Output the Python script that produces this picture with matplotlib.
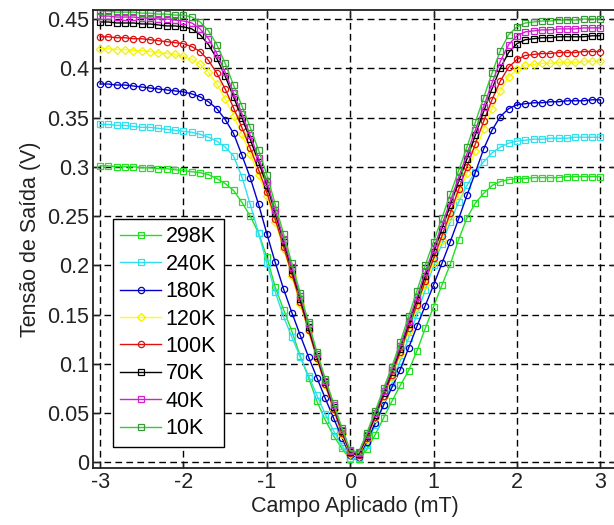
import numpy as np
import matplotlib.pyplot as plt

plt.rcParams['font.family'] = ['Liberation Sans', 'DejaVu Sans']

# applied field (mT), shared by every curve
campo = np.round(np.arange(-30, 31) / 10.0, 1)

v_298 = [0.301, 0.301, 0.300, 0.300, 0.300, 0.299, 0.299, 0.298, 0.298, 0.297, 0.296,
         0.295, 0.294, 0.292, 0.288, 0.283, 0.276, 0.264, 0.250, 0.233, 0.208,
         0.178, 0.155, 0.133, 0.108, 0.086, 0.062, 0.043, 0.027, 0.014, 0.003,
         0.003, 0.013, 0.028, 0.045, 0.062, 0.078, 0.093, 0.113, 0.136, 0.158,
         0.180, 0.201, 0.226, 0.248, 0.263, 0.273, 0.281, 0.285, 0.287, 0.288,
         0.288, 0.289, 0.289, 0.289, 0.289, 0.290, 0.290, 0.290, 0.290, 0.290]
v_240 = [0.343, 0.343, 0.342, 0.342, 0.341, 0.340, 0.340, 0.339, 0.338, 0.337, 0.336,
         0.335, 0.333, 0.330, 0.326, 0.320, 0.311, 0.290, 0.262, 0.233, 0.202,
         0.173, 0.148, 0.127, 0.107, 0.088, 0.068, 0.049, 0.032, 0.017, 0.004,
         0.004, 0.018, 0.038, 0.058, 0.080, 0.103, 0.126, 0.150, 0.175, 0.200,
         0.222, 0.244, 0.264, 0.281, 0.295, 0.305, 0.314, 0.320, 0.324, 0.326,
         0.327, 0.328, 0.328, 0.329, 0.329, 0.329, 0.330, 0.330, 0.330, 0.330]
v_180 = [0.384, 0.384, 0.383, 0.383, 0.382, 0.381, 0.380, 0.379, 0.378, 0.377, 0.376,
         0.374, 0.371, 0.366, 0.359, 0.348, 0.334, 0.312, 0.289, 0.262, 0.232,
         0.203, 0.176, 0.152, 0.129, 0.107, 0.086, 0.065, 0.045, 0.025, 0.007,
         0.005, 0.021, 0.040, 0.058, 0.076, 0.094, 0.116, 0.138, 0.159, 0.180,
         0.202, 0.224, 0.247, 0.271, 0.294, 0.318, 0.337, 0.351, 0.359, 0.363,
         0.364, 0.365, 0.365, 0.366, 0.366, 0.367, 0.367, 0.367, 0.368, 0.368]
v_120 = [0.420, 0.420, 0.419, 0.419, 0.418, 0.418, 0.417, 0.416, 0.415, 0.414, 0.412,
         0.409, 0.404, 0.396, 0.384, 0.369, 0.352, 0.333, 0.313, 0.292, 0.270,
         0.244, 0.217, 0.189, 0.161, 0.133, 0.105, 0.078, 0.053, 0.029, 0.008,
         0.006, 0.024, 0.045, 0.066, 0.087, 0.110, 0.133, 0.157, 0.180, 0.203,
         0.226, 0.249, 0.272, 0.294, 0.316, 0.338, 0.359, 0.377, 0.391, 0.399,
         0.403, 0.404, 0.405, 0.405, 0.406, 0.406, 0.406, 0.407, 0.407, 0.407]
v_100 = [0.432, 0.432, 0.431, 0.431, 0.430, 0.430, 0.429, 0.428, 0.427, 0.426, 0.425,
         0.422, 0.417, 0.408, 0.395, 0.379, 0.360, 0.340, 0.319, 0.297, 0.274,
         0.247, 0.219, 0.191, 0.163, 0.134, 0.106, 0.079, 0.054, 0.030, 0.009,
         0.007, 0.025, 0.046, 0.067, 0.089, 0.112, 0.136, 0.160, 0.184, 0.207,
         0.230, 0.253, 0.277, 0.300, 0.323, 0.346, 0.368, 0.387, 0.401, 0.409,
         0.413, 0.414, 0.415, 0.415, 0.416, 0.416, 0.416, 0.417, 0.417, 0.417]
v_70 = [0.447, 0.447, 0.446, 0.446, 0.446, 0.445, 0.445, 0.444, 0.443, 0.443, 0.442,
        0.440, 0.434, 0.424, 0.410, 0.392, 0.371, 0.350, 0.328, 0.305, 0.281,
        0.253, 0.224, 0.195, 0.166, 0.137, 0.108, 0.081, 0.056, 0.032, 0.010,
        0.008, 0.027, 0.048, 0.070, 0.092, 0.115, 0.140, 0.165, 0.189, 0.213,
        0.237, 0.261, 0.285, 0.308, 0.332, 0.356, 0.379, 0.400, 0.416, 0.425,
        0.429, 0.430, 0.431, 0.431, 0.432, 0.432, 0.432, 0.432, 0.433, 0.433]
v_40 = [0.453, 0.453, 0.452, 0.452, 0.452, 0.451, 0.451, 0.450, 0.450, 0.449, 0.448,
        0.446, 0.440, 0.430, 0.415, 0.396, 0.375, 0.354, 0.332, 0.309, 0.285,
        0.256, 0.227, 0.198, 0.169, 0.140, 0.110, 0.083, 0.058, 0.033, 0.011,
        0.009, 0.028, 0.050, 0.072, 0.094, 0.118, 0.143, 0.168, 0.193, 0.217,
        0.241, 0.265, 0.289, 0.313, 0.337, 0.361, 0.385, 0.407, 0.424, 0.433,
        0.437, 0.438, 0.439, 0.439, 0.440, 0.440, 0.440, 0.441, 0.441, 0.441]
v_10 = [0.458, 0.458, 0.457, 0.457, 0.457, 0.456, 0.456, 0.455, 0.455, 0.454, 0.454,
        0.452, 0.447, 0.438, 0.424, 0.405, 0.383, 0.362, 0.340, 0.317, 0.292,
        0.262, 0.232, 0.202, 0.172, 0.142, 0.112, 0.085, 0.060, 0.035, 0.012,
        0.010, 0.030, 0.052, 0.075, 0.097, 0.122, 0.148, 0.174, 0.200, 0.224,
        0.248, 0.272, 0.296, 0.320, 0.345, 0.370, 0.395, 0.418, 0.434, 0.442,
        0.446, 0.447, 0.448, 0.448, 0.449, 0.449, 0.449, 0.450, 0.450, 0.450]

labels = ['298K', '240K', '180K', '120K', '100K', '70K', '40K', '10K']
series = [v_298, v_240, v_180, v_120, v_100, v_70, v_40, v_10]
colors = ['#22e022', '#30e0ee', '#0000c8', '#ffff10', '#e01010', '#000000', '#d020d0', '#30d030']
edges = ['#22e022', '#30e0ee', '#0000c8', '#f0f000', '#e01010', '#000000', '#d020d0', '#3a9a3a']
markers = ['s', 's', 'o', 'D', 'o', 's', 's', 's']

fig = plt.figure(figsize=(6.14, 5.25), dpi=100)
ax = fig.add_axes([0.1515, 0.1086, 0.8534, 0.8724])

for v, lab, c, ec, m in zip(series, labels, colors, edges, markers):
    ax.plot(campo, v, color=c, lw=1.0, marker=m, ms=4.5 if m != 'D' else 4,
            mfc='none', mec=ec, mew=0.9, label=lab)

ax.set_xlim(-3.085, 3.2)
ax.set_ylim(-0.0058, 0.4592)
ax.set_xticks(np.arange(-3, 4, 1))
ax.set_yticks(np.arange(0, 0.451, 0.05))
ax.set_yticklabels(['0', '0.05', '0.1', '0.15', '0.2', '0.25', '0.3', '0.35', '0.4', '0.45'])
ax.set_xticklabels(['-3', '-2', '-1', '0', '1', '2', '3'])

ax.grid(True, color='black', lw=1.0, linestyle=(0, (4.8, 3.1)))
ax.tick_params(direction='in', length=5, width=1, top=True, right=True,
               labelsize=15.5, colors='#222222', pad=3)
for s in ax.spines.values():
    s.set_linewidth(1.3)
    s.set_color('#222222')

ax.set_xlabel('Campo Aplicado (mT)', fontsize=15.5, color='#222222', labelpad=2)
ax.set_ylabel('Tensão de Saída (V)', fontsize=15.5, color='#222222', labelpad=4)

leg = ax.legend(loc='lower left', bbox_to_anchor=(0.038, 0.046), borderaxespad=0,
                fontsize=15.5, handlelength=1.9, handletextpad=0.2, labelspacing=0.3,
                borderpad=0.35, fancybox=False, framealpha=1, edgecolor='black')
leg.get_frame().set_linewidth(1.0)

fig.savefig('out.png', dpi=100)
